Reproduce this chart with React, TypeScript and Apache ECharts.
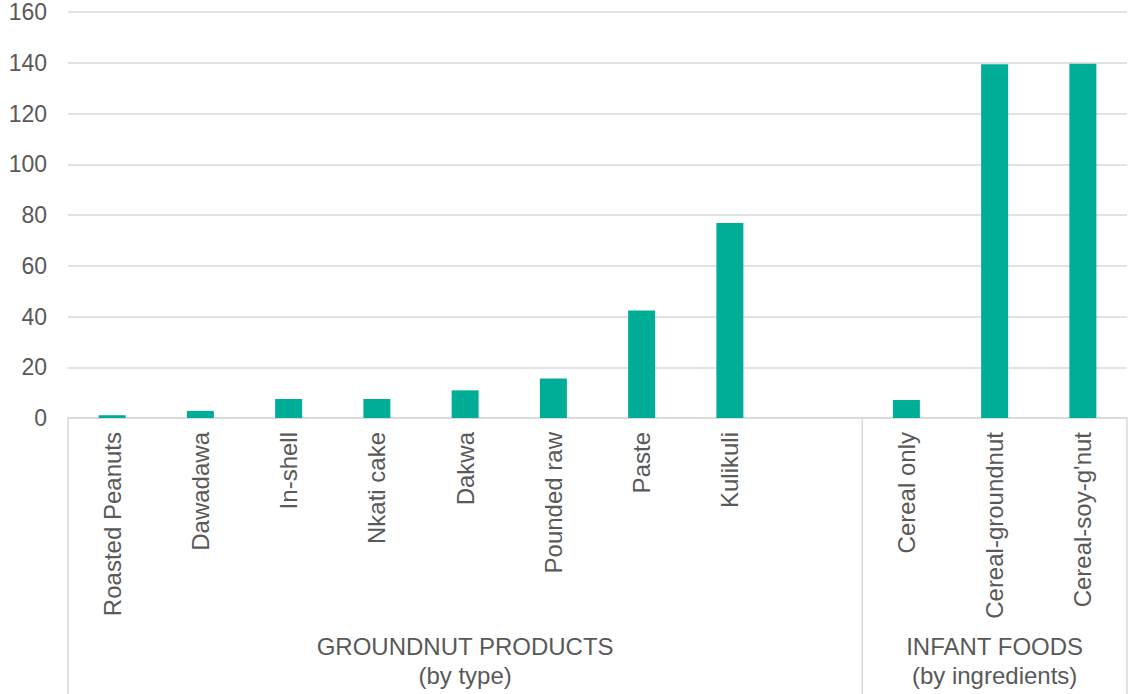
import React, { useEffect, useRef } from "react";
import * as echarts from "echarts";

const categories = [
  "Roasted Peanuts",
  "Dawadawa",
  "In-shell",
  "Nkati cake",
  "Dakwa",
  "Pounded raw",
  "Paste",
  "Kulikuli",
  "",
  "Cereal only",
  "Cereal-groundnut",
  "Cereal-soy-g'nut",
];

const values: (number | null)[] = [1.1, 2.8, 7.5, 7.5, 10.9, 15.6, 42.4, 76.8, null, 7.1, 139.4, 139.6];

const groupNames = ["GROUNDNUT PRODUCTS\n(by type)", "INFANT FOODS\n(by ingredients)"];
const groupStarts = [0, 9];
const groupEnds = [9, 12];

const yTicks = { min: 0, max: 160, interval: 20 };

const TEXT = "#595959";
const LINE = "#d9d9d9";
const BAR = "#00AE98";
const FONT = "'Liberation Sans', Arial, sans-serif";

export default function App() {
  const ref = useRef<HTMLDivElement>(null);

  useEffect(() => {
    document.body.style.margin = "0";
    if (!ref.current) return;
    const chart = echarts.init(ref.current, undefined, { renderer: "svg" });

    const groupLabelAt: string[] = categories.map(() => "");
    groupNames.forEach((name, g) => {
      const c = groupStarts[g] + Math.floor((groupEnds[g] - groupStarts[g]) / 2);
      groupLabelAt[c] = name;
    });

    chart.setOption({
      animation: false,
      textStyle: { fontFamily: FONT },
      grid: { left: 68, right: 2, top: 12, bottom: 276, containLabel: false },
      xAxis: [
        {
          type: "category",
          data: categories,
          position: "bottom",
          axisLine: { show: true, lineStyle: { color: LINE, width: 1.5 } },
          axisTick: { show: false },
          axisLabel: {
            interval: 0,
            rotate: 90,
            margin: 14,
            color: TEXT,
            fontSize: 24,
            fontFamily: FONT,
          },
        },
        {
          type: "category",
          data: categories,
          position: "bottom",
          axisLine: { show: false },
          axisTick: { show: false },
          axisLabel: {
            interval: 0,
            margin: 214,
            color: TEXT,
            fontSize: 24,
            lineHeight: 29,
            fontFamily: FONT,
            formatter: (_v: string, idx: number) => groupLabelAt[idx],
          },
        },
      ],
      yAxis: {
        type: "value",
        min: yTicks.min,
        max: yTicks.max,
        interval: yTicks.interval,
        axisLine: { show: false },
        axisTick: { show: false },
        axisLabel: { margin: 21, color: TEXT, fontSize: 23, fontFamily: FONT },
        splitLine: { lineStyle: { color: LINE, width: 1.5 } },
      },
      series: [
        {
          type: "bar",
          data: values,
          barWidth: 27,
          itemStyle: { color: BAR },
        },
      ],
    });

    const c0 = chart.convertToPixel({ xAxisIndex: 0 }, 0) as number;
    const c1 = chart.convertToPixel({ xAxisIndex: 0 }, 1) as number;
    const band = c1 - c0;
    const y0 = chart.convertToPixel({ yAxisIndex: 0 }, 0) as number;
    const bounds = Array.from(new Set([...groupStarts, ...groupEnds]));
    chart.setOption({
      graphic: bounds.map((b) => ({
        type: "line",
        shape: { x1: c0 - band / 2 + b * band, y1: y0, x2: c0 - band / 2 + b * band, y2: 694 },
        style: { stroke: LINE, lineWidth: 1.5 },
        silent: true,
      })),
    });

    return () => chart.dispose();
  }, []);

  return <div ref={ref} style={{ width: 1129, height: 694 }} />;
}
